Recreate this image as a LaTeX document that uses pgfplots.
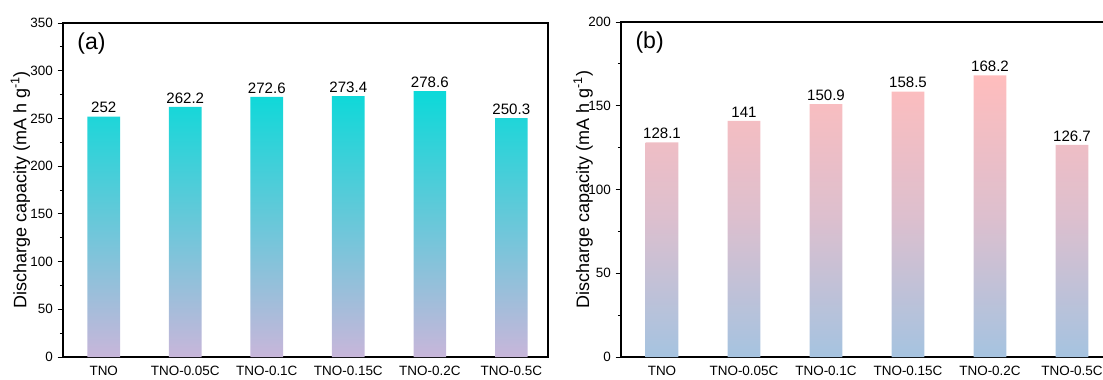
\documentclass[border=0pt]{standalone}
\usepackage{pgfplots}
\pgfplotsset{compat=1.18}
\usepackage{fontspec}
\setmainfont{Liberation Sans}
\definecolor{cyanT}{HTML}{0CD9D9}
\definecolor{lavB}{HTML}{C8B6DA}
\definecolor{pinkT}{HTML}{FFBDBD}
\definecolor{blueB}{HTML}{A5C3E0}
\definecolor{lavM}{HTML}{DDBFCE}

\pgfplotstableread{
x y label
0 252 252
1 262.2 262.2
2 272.6 272.6
3 273.4 273.4
4 278.6 278.6
5 250.3 250.3
}\dataA
\pgfplotstableread{
x y label
0 128.1 128.1
1 141 141
2 150.9 150.9
3 158.5 158.5
4 168.2 168.2
5 126.7 126.7
}\dataB

\begin{document}
\begin{tikzpicture}
\useasboundingbox (0,0) rectangle (827.25pt,284.25pt);
\pgfplotsset{common/.style={
  scale only axis,
  anchor=south west,
  ybar,
  bar width=0.4,
  xtick=data,
  xticklabels={TNO,TNO-0.05C,TNO-0.1C,TNO-0.15C,TNO-0.2C,TNO-0.5C},
  x tick style={draw=none},
  ytick pos=left,
  tick align=outside,
  minor y tick num=1,
  major tick length=4pt,
  minor tick length=2.4pt,
  axis line style={line width=0.8pt},
  y tick style={line width=0.7pt, black},
  ticklabel style={font=\fontsize{10.1}{12}\selectfont},
  /pgf/number format/assume math mode=true,
  ylabel={Discharge capacity (mA h g\textsuperscript{-1})},
  ylabel style={font=\fontsize{13.5}{15}\selectfont, anchor=center},
  xticklabel style={yshift=1pt},
  every node near coord/.append style={font=\fontsize{11.3}{13}\selectfont, text=black, yshift=-1pt},
  ymin=0,
}}
\begin{axis}[common, at={(47.25pt,16.5pt)}, width=363.75pt, height=250.5pt,
  xmin=-0.5, xmax=5.45, ymax=350, ytick={0,50,...,350},
  ylabel style={at={(axis description cs:-0.088,0.5)}}]
\addplot[draw=none, top color=cyanT, bottom color=lavB, nodes near coords, point meta=explicit symbolic]
  table[x=x,y=y,meta=label]{\dataA};
\node[anchor=north west, font=\fontsize{17.3}{19}\selectfont] at (rel axis cs:0.02,0.985) {(a)};
\end{axis}
\begin{axis}[common, at={(465.75pt,16.5pt)}, width=369pt, height=251.25pt,
  xmin=-0.5, xmax=5.5, ymax=200, ytick={0,50,...,200},
  ylabel style={at={(axis description cs:-0.077,0.5)}}]
\addplot[draw=none, top color=pinkT, bottom color=blueB, middle color=lavM, nodes near coords, point meta=explicit symbolic]
  table[x=x,y=y,meta=label]{\dataB};
\node[anchor=north west, font=\fontsize{17.3}{19}\selectfont] at (rel axis cs:0.02,0.985) {(b)};
\end{axis}
\end{tikzpicture}
\end{document}
